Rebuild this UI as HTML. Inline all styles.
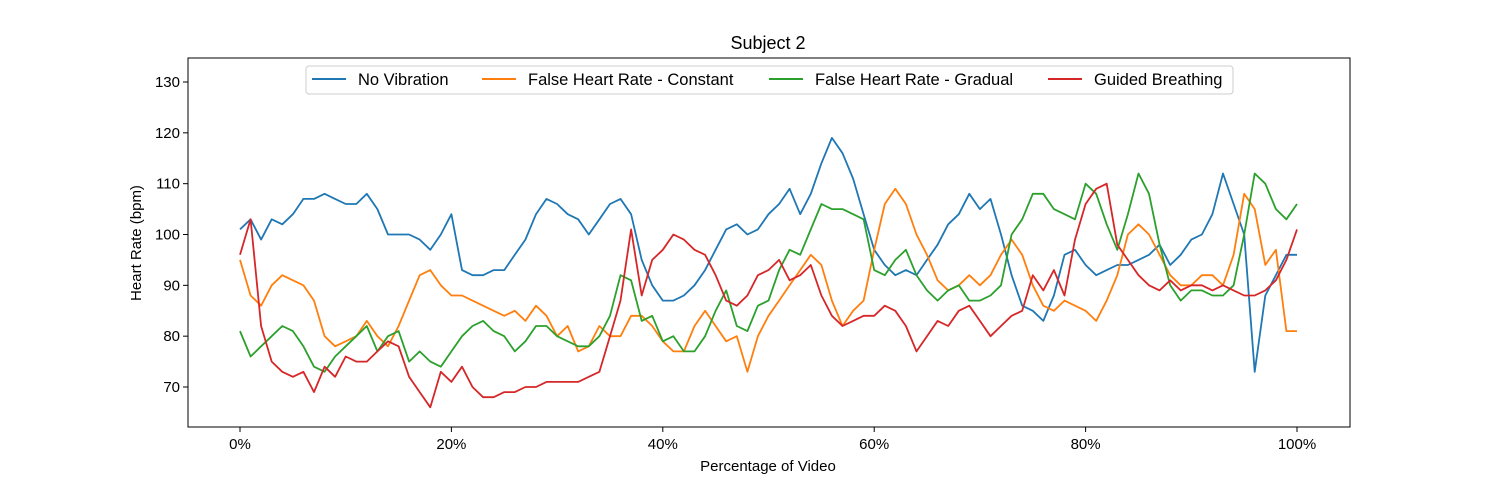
<!DOCTYPE html>
<html><head><meta charset="utf-8"><style>
html,body{margin:0;padding:0;background:#fff;}
svg{display:block;font-family:"Liberation Sans",sans-serif;}
</style></head><body>
<svg id="chart" width="1500" height="480" viewBox="0 0 1500 480">
<rect x="0" y="0" width="1500" height="480" fill="#fff"/>
<text x="768" y="49" font-size="18" text-anchor="middle">Subject 2</text>
<g id="series"></g>
<g id="axes"></g>
<text x="768" y="471" font-size="15" text-anchor="middle">Percentage of Video</text>
<text x="141" y="243" font-size="15" text-anchor="middle" transform="rotate(-90 141 243)">Heart Rate (bpm)</text>
<g id="legend"></g>
</svg>
<script>
const seriesNames=["No Vibration","False Heart Rate - Constant","False Heart Rate - Gradual","Guided Breathing"];
const seriesColors=["#1f77b4","#ff7f0e","#2ca02c","#d62728"];
const xTicks=[0,20,40,60,80,100];
const yTicks=[70,80,90,100,110,120,130];
const noVibration=[101,103,99,103,102,104,107,107,108,107,106,106,108,105,100,100,100,99,97,100,104,93,92,92,93,93,96,99,104,107,106,104,103,100,103,106,107,104,95,90,87,87,88,90,93,97,101,102,100,101,104,106,109,104,108,114,119,116,111,104,97,94,92,93,92,95,98,102,104,108,105,107,100,92,86,85,83,88,96,97,94,92,93,94,94,95,96,98,94,96,99,100,104,112,106,100,73,88,92,96,96];
const falseConstant=[95,88,86,90,92,91,90,87,80,78,79,80,83,80,78,82,87,92,93,90,88,88,87,86,85,84,85,83,86,84,80,82,77,78,82,80,80,84,84,82,79,77,77,82,85,82,79,80,73,80,84,87,90,93,96,94,87,82,85,87,97,106,109,106,100,96,91,89,90,92,90,92,96,99,96,90,86,85,87,86,85,83,87,92,100,102,100,96,92,90,90,92,92,90,96,108,105,94,97,81,81];
const falseGradual=[81,76,78,80,82,81,78,74,73,76,78,80,82,77,80,81,75,77,75,74,77,80,82,83,81,80,77,79,82,82,80,79,78,78,80,84,92,91,83,84,79,80,77,77,80,85,89,82,81,86,87,93,97,96,101,106,105,105,104,103,93,92,95,97,92,89,87,89,90,87,87,88,90,100,103,108,108,105,104,103,110,108,102,97,104,112,108,98,90,87,89,89,88,88,90,100,112,110,105,103,106];
const guidedBreathing=[96,103,82,75,73,72,73,69,74,72,76,75,75,77,79,78,72,69,66,73,71,74,70,68,68,69,69,70,70,71,71,71,71,72,73,80,87,101,88,95,97,100,99,97,96,92,87,86,88,92,93,95,91,92,94,88,84,82,83,84,84,86,85,82,77,80,83,82,85,86,83,80,82,84,85,92,89,93,88,99,106,109,110,98,95,92,90,89,91,89,90,90,89,90,89,88,88,89,91,95,101];
const allSeries=[noVibration,falseConstant,falseGradual,guidedBreathing];
const seriesKeys=["no-vibration","false-constant","false-gradual","guided-breathing"];

const L=188,R=1350,T=58,B=427;
const xScale=p=>240+p*(1297-240)/100;
const yScale=v=>82+(130-v)*(387-82)/60;
const NS="http://www.w3.org/2000/svg";
function mk(tag,attrs,parent){const e=document.createElementNS(NS,tag);for(const k in attrs)e.setAttribute(k,attrs[k]);parent.appendChild(e);return e;}

const sg=document.getElementById('series');
allSeries.forEach((arr,i)=>{
  const n=arr.length;
  const pts=arr.map((v,j)=>xScale(j*100/(n-1)).toFixed(1)+","+yScale(v).toFixed(1)).join(" ");
  const pl=mk('polyline',{points:pts,fill:"none",stroke:seriesColors[i],"stroke-width":1.8,"stroke-linejoin":"round"},sg);
  
  
});

const ag=document.getElementById('axes');
const frame=mk('rect',{x:L,y:T,width:R-L,height:B-T,fill:"none",stroke:"#000","stroke-width":1},ag);


xTicks.forEach(t=>{
  const x=xScale(t);
  mk('line',{x1:x,y1:B,x2:x,y2:B+5,stroke:"#000"},ag);
  const tx=mk('text',{x:x,y:B+22,"font-size":15,"text-anchor":"middle"},ag);
  tx.textContent=t+"%";
  
  
});
yTicks.forEach(t=>{
  const y=yScale(t);
  mk('line',{x1:L-5,y1:y,x2:L,y2:y,stroke:"#000"},ag);
  const tx=mk('text',{x:L-8,y:y+5,"font-size":15,"text-anchor":"end"},ag);
  tx.textContent=t;
  
  
});

const lg=document.getElementById('legend');
const box=mk('rect',{x:306,y:66,width:927,height:28,rx:3,fill:"#fff",stroke:"#ccc","stroke-width":1},lg);


const lx=[312,482,769,1048];
seriesNames.forEach((nm,i)=>{
  const g=mk('g',{},lg);
  
  
  mk('line',{x1:lx[i],y1:79,x2:lx[i]+34,y2:79,stroke:seriesColors[i],"stroke-width":2},g);
  const t=mk('text',{x:lx[i]+46,y:85,"font-size":16.5},g);
  t.textContent=nm;
});
</script>
</body></html>
